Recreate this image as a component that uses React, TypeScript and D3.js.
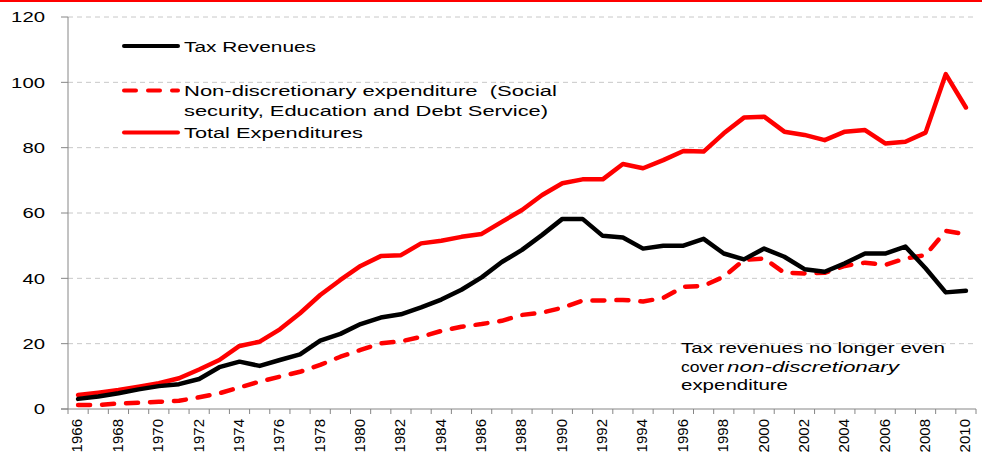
import React from "react";
import * as d3 from "d3";

const years: number[] = d3.range(1966, 2011);

const taxRevenues: number[] = [
  3.1, 3.8, 4.8, 6.0, 7.0, 7.6, 9.2, 12.8, 14.5, 13.2,
  15.0, 16.7, 20.9, 23.0, 26.0, 28.0, 29.0, 31.1, 33.5, 36.5,
  40.3, 45.0, 48.7, 53.3, 58.2, 58.2, 53.0, 52.5, 49.1, 50.0,
  50.0, 52.1, 47.6, 45.8, 49.1, 46.6, 42.8, 42.0, 44.6, 47.6,
  47.6, 49.7, 43.1, 35.7, 36.2,
];

const nonDiscretionary: number[] = [
  1.2, 1.2, 1.7, 1.9, 2.2, 2.5, 3.6, 4.8, 6.6, 8.4,
  9.9, 11.4, 13.5, 16.0, 18.1, 20.1, 20.7, 22.1, 23.9, 25.2,
  26.0, 27.0, 28.8, 29.5, 31.0, 33.2, 33.2, 33.4, 32.9, 34.0,
  37.4, 37.7, 40.5, 45.6, 46.1, 41.7, 41.5, 41.7, 43.8, 44.8,
  44.1, 46.1, 47.1, 54.5, 53.5,
];

const totalExpenditures: number[] = [
  4.3, 5.0, 5.8, 6.8, 7.9, 9.4, 12.1, 15.0, 19.3, 20.6,
  24.4, 29.3, 34.9, 39.5, 43.8, 46.8, 47.1, 50.7, 51.5, 52.7,
  53.6, 57.3, 60.9, 65.5, 69.1, 70.3, 70.3, 75.0, 73.7, 76.2,
  79.0, 78.8, 84.4, 89.2, 89.5, 84.9, 83.9, 82.3, 84.9, 85.4,
  81.3, 81.8, 84.6, 102.5, 92.3,
];

const yTicks: number[] = [0, 20, 40, 60, 80, 100, 120];

const legendLabels: string[][] = [
  ["Tax Revenues"],
  ["Non-discretionary expenditure  (Social", "security, Education and Debt Service)"],
  ["Total Expenditures"],
];

const W = 982;
const H = 453;
const X0 = 68;
const X1 = 976;
const Y0 = 409;
const Y1 = 17;
const FONT = "'Liberation Sans', Arial, sans-serif";
const AXIS = "#868686";

export default function App() {
  const x = d3.scaleBand<number>().domain(years).range([X0, X1]).padding(0);
  const y = d3.scaleLinear().domain([0, 120]).range([Y0, Y1]);
  const cx = (yr: number) => (x(yr) as number) + x.bandwidth() / 2;

  const line = d3
    .line<number>()
    .x((_, i) => cx(years[i]))
    .y((v) => y(v));

  const boundaries = d3.range(0, years.length + 1).map((i) => X0 + i * x.bandwidth());
  const pre = { whiteSpace: "pre" as const };

  return (
    <div style={{ position: "absolute", left: 0, top: 0 }}>
      <svg width={W} height={H} style={{ display: "block", background: "#fff" }}>
        <rect x={0} y={0} width={W} height={2} fill="#FF0000" />

        {/* gridlines */}
        {yTicks.filter((t) => t > 0).map((t) => (
          <line key={"g" + t} x1={X0} x2={X1} y1={y(t)} y2={y(t)} stroke="#C8C8C8" strokeWidth={1} strokeDasharray="5,4" />
        ))}

        {/* y axis */}
        <line x1={X0} x2={X0} y1={Y1} y2={Y0} stroke={AXIS} strokeWidth={1} />
        {yTicks.map((t) => (
          <g key={"yt" + t}>
            <line x1={X0 - 7} x2={X0} y1={y(t)} y2={y(t)} stroke={AXIS} strokeWidth={1} />
            <text
              x={45}
              y={y(t)}
              dy="0.36em"
              textAnchor="end"
              fontFamily={FONT}
              fontSize={15}
              fill="#000"
              textLength={String(t).length * 11.3}
              lengthAdjust="spacingAndGlyphs"
            >
              {t}
            </text>
          </g>
        ))}

        {/* x axis */}
        <line x1={X0 - 7} x2={X1} y1={Y0} y2={Y0} stroke={AXIS} strokeWidth={1} />
        {boundaries.map((b, i) => (
          <line key={"xt" + i} x1={b} x2={b} y1={Y0} y2={Y0 + 5} stroke={AXIS} strokeWidth={1} />
        ))}
        {years.filter((yr) => yr % 2 === 0).map((yr) => (
          <text
            key={"xl" + yr}
            transform={`translate(${cx(yr) - 1},419) rotate(-90)`}
            textAnchor="end"
            dy="0.36em"
            fontFamily={FONT}
            fontSize={15}
            fill="#000"
          >
            {yr}
          </text>
        ))}

        {/* series */}
        <path d={line(nonDiscretionary) || ""} fill="none" stroke="#FF0000" strokeWidth={4.5} strokeDasharray="12,12" strokeLinecap="round" strokeLinejoin="round" />
        <path d={line(totalExpenditures) || ""} fill="none" stroke="#FF0000" strokeWidth={4.5} strokeLinejoin="round" strokeLinecap="round" />
        <path d={line(taxRevenues) || ""} fill="none" stroke="#000000" strokeWidth={4.5} strokeLinejoin="round" strokeLinecap="round" />

        {/* legend */}
        <line x1={124} x2={178} y1={46} y2={46} stroke="#000" strokeWidth={4} strokeLinecap="round" />
        <line x1={124} x2={178} y1={90.5} y2={90.5} stroke="#FF0000" strokeWidth={4} strokeLinecap="round" strokeDasharray="12,12" />
        <line x1={124} x2={178} y1={132.5} y2={132.5} stroke="#FF0000" strokeWidth={4} strokeLinecap="round" />

        <text x={184} y={46} dy="0.36em" fontFamily={FONT} fontSize={15.5} style={pre} textLength={132} lengthAdjust="spacingAndGlyphs">{legendLabels[0][0]}</text>
        <text x={184} y={90.5} dy="0.36em" fontFamily={FONT} fontSize={15.5} style={pre} textLength={373} lengthAdjust="spacingAndGlyphs">{legendLabels[1][0]}</text>
        <text x={184} y={110} dy="0.36em" fontFamily={FONT} fontSize={15.5} style={pre} textLength={364} lengthAdjust="spacingAndGlyphs">{legendLabels[1][1]}</text>
        <text x={184} y={132.5} dy="0.36em" fontFamily={FONT} fontSize={15.5} style={pre} textLength={179} lengthAdjust="spacingAndGlyphs">{legendLabels[2][0]}</text>

        {/* annotation */}
        <text x={681} y={348} dy="0.36em" fontFamily={FONT} fontSize={15} textLength={264} lengthAdjust="spacingAndGlyphs">Tax revenues no longer even</text>
        <text x={681} y={366.5} dy="0.36em" fontFamily={FONT} fontSize={15} textLength={43} lengthAdjust="spacingAndGlyphs">cover</text>
        <text x={727} y={366.5} dy="0.36em" fontFamily={FONT} fontSize={15} fontStyle="italic" textLength={172} lengthAdjust="spacingAndGlyphs">non-discretionary</text>
        <text x={681} y={385} dy="0.36em" fontFamily={FONT} fontSize={15} textLength={107} lengthAdjust="spacingAndGlyphs">expenditure</text>
      </svg>
    </div>
  );
}
